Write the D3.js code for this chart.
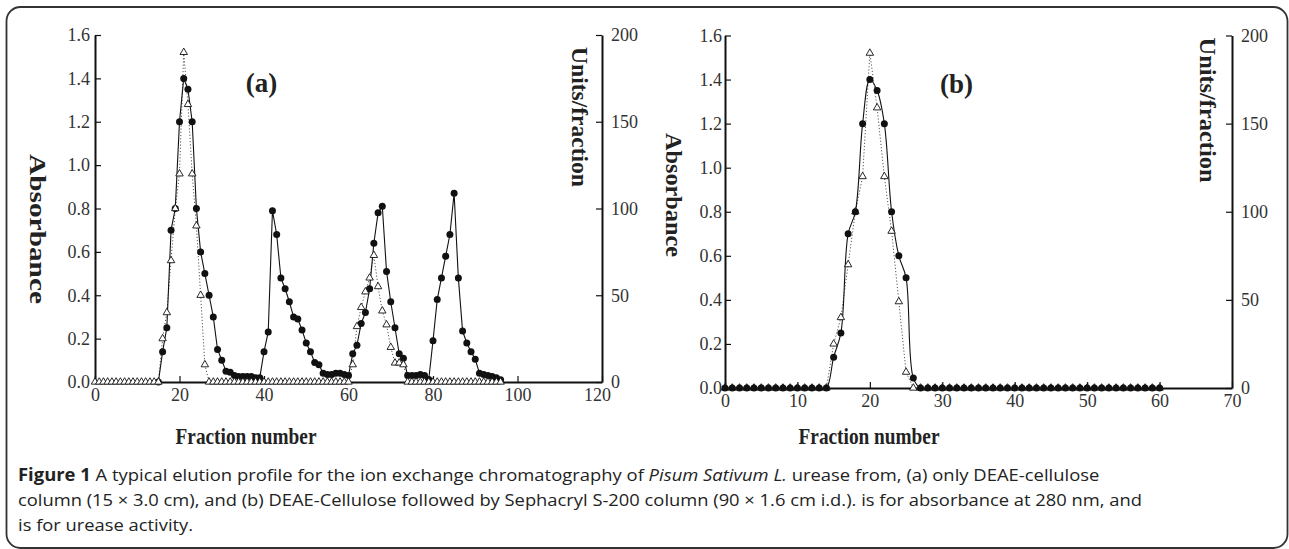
<!DOCTYPE html>
<html><head><meta charset="utf-8">
<script src="https://cdn.jsdelivr.net/npm/d3@7"></script>
<style>html,body{margin:0;padding:0;background:#fff;} svg{display:block;}</style>
</head><body><svg id="c" width="1289" height="549"></svg>
<script>
// ---------------- DATA ----------------
// Panel (a): absorbance at 280 nm, fractions 15..96
const absStartA = 15;
const absorbanceA = [0, 0.14, 0.25, 0.70, 0.80, 1.20, 1.40, 1.35, 1.20, 0.80,
  0.60, 0.50, 0.40, 0.30, 0.15, 0.10, 0.05, 0.045, 0.03, 0.025,
  0.025, 0.025, 0.025, 0.02, 0.02, 0.14, 0.23, 0.79, 0.68, 0.48,
  0.43, 0.37, 0.30, 0.29, 0.24, 0.18, 0.14, 0.09, 0.08, 0.04,
  0.035, 0.035, 0.04, 0.04, 0.035, 0.03, 0.13, 0.17, 0.27, 0.32,
  0.43, 0.64, 0.78, 0.81, 0.51, 0.37, 0.25, 0.13, 0.11, 0.03,
  0.03, 0.03, 0.035, 0.03, 0.012, 0.19, 0.38, 0.48, 0.58, 0.68,
  0.87, 0.48, 0.235, 0.18, 0.14, 0.105, 0.04, 0.035, 0.03, 0.025,
  0.02, 0.01];
// Panel (a): urease activity (Units/fraction), fractions 0..96
const unitsStartA = 0;
const unitsA = [0,0,0,0,0,0,0,0,0,0,0,0,0,0,0,0,
  25, 40, 70, 100, 120, 190, 160, 120, 90, 50, 10,
  0,0,0,0,0,0,0,0,0,0,0,0,0,0,0,0,0,0,0,0,0,0,0,0,0,0,0,0,0,0,0,0,0,0,
  10, 32, 43, 52, 60, 73, 55, 41, 33, 20, 11, 11, 10,
  0,0,0,0,0,0,0,0,0,0,0,0,0,0,0,0,0,0,0,0,0,0,0];
// Panel (b): absorbance, fractions 0..60
const absStartB = 0;
const absorbanceB = [0,0,0,0,0,0,0,0,0,0,0,0,0,0,0,
  0.14, 0.25, 0.70, 0.80, 1.20, 1.40, 1.35, 1.20, 0.80, 0.60, 0.50, 0.045,
  0,0,0,0,0,0,0,0,0,0,0,0,0,0,0,0,0,0,0,0,0,0,0,0,0,0,0,0,0,0,0,0,0,0];
// Panel (b): urease activity, fractions 0..60
const unitsStartB = 0;
const unitsB = [0,0,0,0,0,0,0,0,0,0,0,0,0,0,0,
  25, 40, 70, 100, 120, 190, 159, 120, 89, 49, 9,
  0,0,0,0,0,0,0,0,0,0,0,0,0,0,0,0,0,0,0,0,0,0,0,0,0,0,0,0,0,0,0,0,0,0,0];

const absTicks = [0, 0.2, 0.4, 0.6, 0.8, 1.0, 1.2, 1.4, 1.6];
const unitTicks = [0, 50, 100, 150, 200];
const fracTicksA = [0, 20, 40, 60, 80, 100, 120];
const fracTicksB = [0, 10, 20, 30, 40, 50, 60, 70];

const panelLabels = ["(a)", "(b)"];
const yTitleLeft = "Absorbance";
const yTitleRight = "Units/fraction";
const xTitle = "Fraction number";

const captionLines = [
  [["b","Figure 1"],["n"," A typical elution profile for the ion exchange chromatography of "],["i","Pisum Sativum L."],["n"," urease from, (a) only DEAE-cellulose"]],
  [["n","column (15 \u00d7 3.0 cm), and (b) DEAE-Cellulose followed by Sephacryl S-200 column (90 \u00d7 1.6 cm i.d.). is for absorbance at 280 nm, and"]],
  [["n","is for urease activity."]]
];

// ---------------- DRAW ----------------
const svg = d3.select("#c");
const SERIF = "'Liberation Serif','Times New Roman',serif";
const SANS = "'Open Sans','Noto Sans',sans-serif";

svg.append("rect").attr("x",6.5).attr("y",7).attr("width",1281).attr("height",541)
  .attr("rx",14).attr("ry",14).attr("fill","none").attr("stroke","#333").attr("stroke-width",1.8);

function fitText(text, target){
  const w = text.node().getComputedTextLength();
  if (w > 0 && target) text.attr("transform", `scale(${target / w},1)`);
}

function panel(cfg){
  const x = d3.scaleLinear().domain(cfg.xDomain).range(cfg.xRange);
  const yA = d3.scaleLinear().domain([0,1.6]).range(cfg.yRange);
  const yU = d3.scaleLinear().domain([0,200]).range(cfg.yRange);
  const g = svg.append("g");

  const styleAxis = a => {
    a.select(".domain").attr("stroke","#111").attr("stroke-width",2);
    a.selectAll(".tick line").attr("stroke","#111").attr("stroke-width",1.2);
    a.selectAll(".tick text").attr("fill","#333").style("font-family",SERIF).style("font-size","18px");
  };
  const ax = g.append("g").attr("transform",`translate(0,${cfg.yRange[0]})`)
    .call(d3.axisBottom(x).tickValues(cfg.xTicks).tickSize(-6).tickSizeOuter(0).tickPadding(6).tickFormat(d3.format("d")));
  styleAxis(ax);
  if (cfg.lastXLabelShift) ax.selectAll(".tick text").filter((d,i,n)=>i===n.length-1).attr("dx", cfg.lastXLabelShift);
  const al = g.append("g").attr("transform",`translate(${cfg.xRange[0]},0)`)
    .call(d3.axisLeft(yA).tickValues(absTicks).tickSize(-6).tickSizeOuter(0).tickPadding(cfg.leftPad).tickFormat(d3.format(".1f")));
  styleAxis(al);
  const ar = g.append("g").attr("transform",`translate(${cfg.xRange[1]},0)`)
    .call(d3.axisRight(yU).tickValues(unitTicks).tickSize(-6).tickSizeOuter(0).tickPadding(9).tickFormat(d3.format("d")));
  styleAxis(ar);

  const absData = cfg.abs.map((v,i)=>({f:cfg.absStart+i, v}));
  const uniData = cfg.units.map((v,i)=>({f:cfg.unitsStart+i, v}));

  const lineA = d3.line().x(d=>x(d.f)).y(d=>yA(d.v)).curve(cfg.smooth ? d3.curveCatmullRom.alpha(0.5) : d3.curveLinear);
  const lineU = d3.line().x(d=>x(d.f)).y(d=>yU(d.v));

  g.append("path").datum(uniData).attr("d",lineU).attr("fill","none")
    .attr("stroke","#555").attr("stroke-width",1).attr("stroke-dasharray","1.2,2");
  g.append("path").datum(absData).attr("d",lineA).attr("fill","none")
    .attr("stroke","#111").attr("stroke-width",1.1);

  const tri = d3.symbol().type(d3.symbolTriangle).size(24);
  const drawCircles = () => g.append("g").selectAll("circle").data(absData).join("circle")
    .attr("cx",d=>x(d.f)).attr("cy",d=>yA(d.v)).attr("r",3.5).attr("fill","#111");
  const drawTris = () => g.append("g").selectAll("path").data(uniData).join("path")
    .attr("d",tri).attr("transform",d=>`translate(${x(d.f)},${yU(d.v)})`)
    .attr("fill","#fff").attr("stroke","#111").attr("stroke-width",0.9);
  if (cfg.circlesOnTop){ drawTris(); drawCircles(); } else { drawCircles(); drawTris(); }

  // panel label
  g.append("text").attr("x",cfg.labelPos[0]).attr("y",cfg.labelPos[1]).attr("text-anchor","middle")
    .style("font-family",SERIF).style("font-weight","bold").style("font-size","27px").attr("fill","#222")
    .text(cfg.label);

  // titles
  const vt = (pos, str, len) => {
    const gg = g.append("g").attr("transform",`translate(${pos[0]},${pos[1]}) rotate(90)`);
    const t = gg.append("text").attr("text-anchor","middle").attr("dominant-baseline","central")
      .style("font-family",SERIF).style("font-weight","bold").style("font-size","24px").attr("fill","#222").text(str);
    fitText(t, len);
  };
  vt(cfg.absTitle, yTitleLeft, cfg.absLen);
  vt(cfg.unitTitle, yTitleRight, cfg.unitLen);
  const xg = g.append("g").attr("transform",`translate(${cfg.xTitle[0]},${cfg.xTitle[1]})`);
  const xt = xg.append("text").attr("text-anchor","middle")
    .style("font-family",SERIF).style("font-weight","bold").style("font-size","24px").attr("fill","#222").text(xTitle);
  fitText(xt, 141);
}

panel({xDomain:[0,120], xRange:[95,602], yRange:[382,35], xTicks:fracTicksA, leftPad:5, lastXLabelShift:-5,
  abs:absorbanceA, absStart:absStartA, units:unitsA, unitsStart:unitsStartA, smooth:false, circlesOnTop:false,
  label:panelLabels[0], labelPos:[261.5,92], absTitle:[38.5,229], absLen:150, unitTitle:[580,117], unitLen:140,
  xTitle:[246,444]});
panel({xDomain:[0,70], xRange:[725,1232], yRange:[388,35.5], xTicks:fracTicksB, leftPad:3,
  abs:absorbanceB, absStart:absStartB, units:unitsB, unitsStart:unitsStartB, smooth:true, circlesOnTop:true,
  label:panelLabels[1], labelPos:[956.5,93], absTitle:[674,195], absLen:124, unitTitle:[1208,110], unitLen:145,
  xTitle:[869,444]});

// caption
const capY = [481, 506, 531];
const capTexts = captionLines.map((parts, i) => {
  const gg = svg.append("g").attr("transform",`translate(18,${capY[i]})`);
  const t = gg.append("text").style("font-family",SANS).style("font-size","17px").attr("fill","#222");
  parts.forEach(([s, str]) => {
    const ts = t.append("tspan").text(str);
    if (s === "b") ts.style("font-weight","bold");
    if (s === "i") ts.style("font-style","italic");
  });
  return t;
});
const k1 = 1082 / capTexts[0].node().getComputedTextLength();
const k2 = 1125 / capTexts[1].node().getComputedTextLength();
capTexts[0].attr("transform", `scale(${k1},1)`);
capTexts[1].attr("transform", `scale(${k2},1)`);
capTexts[2].attr("transform", `scale(${k2},1)`);
</script></body></html>
